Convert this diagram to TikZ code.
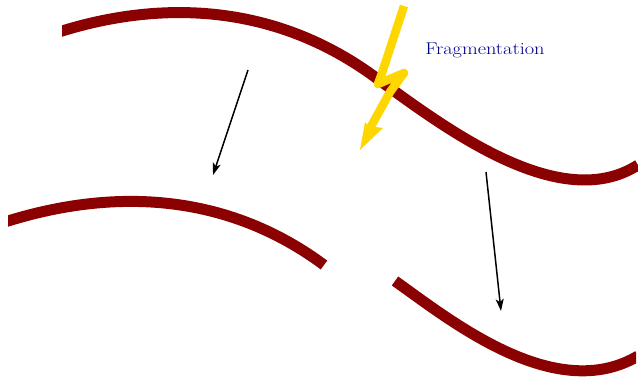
\documentclass[tikz,border=0pt]{standalone}
\usepackage{tikz}
\usetikzlibrary{arrows.meta}

\definecolor{strandred}{RGB}{139,0,0}
\definecolor{boltgold}{RGB}{255,215,0}
\definecolor{labelblue}{RGB}{0,0,139}

\begin{document}
\begin{tikzpicture}[
    x=1pt, y=-1pt,
    strand/.style={line width=11pt, strandred},
    bolt/.style={line width=8.5pt, boltgold, line join=round},
    arrow/.style={-{Stealth[length=12pt, width=8pt, inset=3pt]}, line width=1.5pt},
    lbl/.style={font=\fontsize{17}{20}\selectfont, text=labelblue, inner sep=0pt, xscale=1.2}
]
\useasboundingbox (0,0) rectangle (638,376);

% parent strand
\begin{scope}
\clip (62,0) rectangle (638,200);
\draw[strand] (55,33) -- (62,31) .. controls (130,10) and (255,-11) .. (375,77)
      .. controls (445,128) and (560,215) .. (638,165);
\end{scope}

% fragments
\begin{scope}
\clip (8,190) rectangle (340,280);
\draw[strand] (1,223) -- (8,221) .. controls (76,200) and (204,176) .. (324,265);
\end{scope}
\begin{scope}
\clip (380,260) rectangle (636,376);
\draw[strand] (395,281) .. controls (450,320) and (555,405) .. (638,356);
\end{scope}

% lightning
\coordinate (bolt_top) at (404,6);
\coordinate (bolt_tip) at (360,150);
\draw[bolt] (bolt_top) -- (382,73) -- (378,84) -- (404,73) -- (390,92) -- (369,130);
\fill[boltgold] (bolt_tip) -- (365,122) -- (369,127) -- (376,127) -- (383,128) -- cycle;

\node[lbl] (frag_l) at (485,50) {Fragmentation};

% steps
\coordinate (top_a) at (248,70);
\coordinate (low_a) at (213,175);
\coordinate (top_b) at (486,172);
\coordinate (low_b) at (501,311);
\draw[arrow] (top_a) -- (low_a);
\draw[arrow] (top_b) -- (low_b);
\end{tikzpicture}
\end{document}
